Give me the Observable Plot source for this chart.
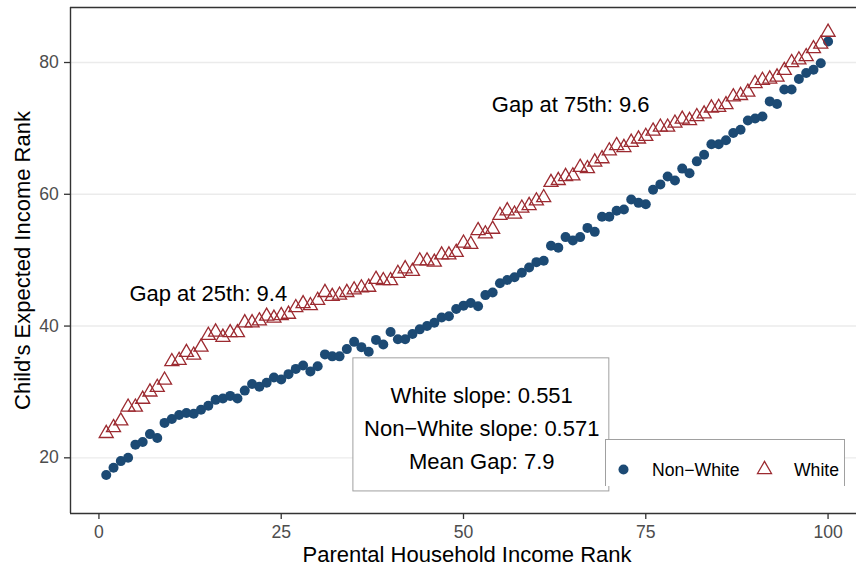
<!DOCTYPE html>
<html>
<head>
<meta charset="utf-8">
<script src="https://cdn.jsdelivr.net/npm/d3@7"></script>
<script src="https://cdn.jsdelivr.net/npm/@observablehq/plot@0.6"></script>
<style>
  html, body { margin: 0; padding: 0; background: white; overflow: hidden; }
  #wrap { position: relative; width: 856px; height: 567px; font-family: "Liberation Sans", Arial, Helvetica, sans-serif; }
  #legend { position: absolute; left: 605px; top: 439px; width: 240px; height: 47px;
    border: 1px solid #a0a0a0; border-bottom: none; background: white; box-sizing: border-box; }
  #legend svg { position: absolute; left: 0; top: 0; }
</style>
</head>
<body>
<div id="wrap"></div>
<script>
// Parental household income rank (1..100)
const ranks = d3.range(1, 101);

// Child's expected income rank, Non-White
const nonWhite = [
  17.4, 18.5, 19.5, 20.0, 22.0, 22.4, 23.6, 23.0, 25.3, 25.9,
  26.5, 26.8, 26.7, 27.3, 27.9, 28.8, 29.0, 29.4, 29.0, 30.2,
  31.2, 30.8, 31.4, 32.2, 31.9, 32.7, 33.5, 34.0, 33.1, 33.9,
  35.7, 35.4, 35.4, 36.5, 37.6, 36.8, 36.1, 37.9, 37.2, 39.1,
  38.0, 38.0, 38.8, 39.5, 40.0, 40.5, 41.3, 41.5, 42.6, 43.1,
  43.5, 43.0, 44.7, 45.1, 46.5, 47.0, 47.4, 48.1, 48.9, 49.7,
  49.9, 52.2, 51.9, 53.5, 53.0, 53.5, 54.9, 54.3, 56.6, 56.6,
  57.5, 57.7, 59.2, 58.7, 58.5, 60.7, 61.5, 62.7, 62.1, 63.9,
  63.2, 65.0, 66.0, 67.6, 67.6, 68.2, 69.3, 69.8, 71.2, 71.5,
  71.8, 74.1, 73.7, 75.9, 75.9, 77.5, 78.4, 78.9, 79.9, 83.2
];

// Child's expected income rank, White
const white = [
  23.7, 24.6, 25.6, 27.7, 27.7, 28.9, 30.0, 30.7, 31.8, 34.6,
  34.8, 36.0, 35.6, 36.8, 38.6, 39.1, 38.3, 39.0, 39.0, 40.5,
  40.5, 40.8, 41.5, 41.2, 41.6, 41.8, 42.8, 43.4, 43.1, 43.9,
  45.1, 44.5, 44.7, 45.1, 45.5, 45.8, 45.9, 47.1, 46.9, 46.9,
  48.0, 48.7, 48.3, 49.9, 49.9, 49.7, 50.8, 50.8, 51.2, 52.6,
  52.4, 54.5, 54.0, 54.7, 56.8, 57.5, 57.0, 57.9, 58.3, 59.0,
  59.5, 61.8, 62.1, 62.7, 62.8, 64.1, 63.9, 64.9, 65.4, 66.6,
  67.4, 67.1, 67.9, 68.4, 68.8, 69.6, 70.2, 70.2, 70.8, 71.4,
  71.2, 71.8, 72.2, 73.1, 73.2, 73.6, 74.8, 75.0, 75.5, 76.8,
  77.3, 77.5, 77.8, 78.8, 80.0, 80.4, 80.9, 82.1, 82.8, 84.6
];

const groups = ["Non\u2212White", "White"];
const xTicks = [0, 25, 50, 75, 100];
const yTicks = [20, 40, 60, 80];
const xDomain = [-3.9, 103.9];
const yDomain = [11.55, 88.35];

const gap25 = "Gap at 25th: 9.4";
const gap75 = "Gap at 75th: 9.6";
const statsLabel = ["White slope: 0.551", "Non\u2212White slope: 0.571", "Mean Gap: 7.9"];

const BLUE = "#1c4a74";
const RED = "#9c2a30";
const FONT = "'Liberation Sans', Arial, Helvetica, sans-serif";

const nwData = ranks.map((r, i) => ({rank: r, value: nonWhite[i]}));
const wData = ranks.map((r, i) => ({rank: r, value: white[i]}));

const plot = Plot.plot({
  width: 856,
  height: 567,
  marginLeft: 70,
  marginRight: 0,
  marginTop: 7,
  marginBottom: 54,
  style: {fontFamily: FONT, background: "white", overflow: "visible"},
  x: {domain: xDomain},
  y: {domain: yDomain},
  marks: [
    Plot.gridY(yTicks, {stroke: "#ebebeb", strokeOpacity: 1, strokeWidth: 1.4}),
    Plot.rect([statsLabel], {x1: 34.9, x2: 70.0, y1: 14.9, y2: 35.1, fill: "white", stroke: "#a0a0a0", strokeWidth: 1}),
    Plot.text([statsLabel.join("\n")], {x: 52.5, y: 24.9, fontSize: 22, lineHeight: 1.5, fill: "black", textAnchor: "middle", lineAnchor: "middle"}),
    Plot.dot(nwData, {x: "rank", y: "value", r: 5, fill: BLUE, symbol: "circle"}),
    Plot.dot(wData, {x: "rank", y: "value", r: 5.2, stroke: RED, strokeWidth: 1.3, fill: "none", symbol: "triangle"}),
    Plot.text([gap25], {x: 15.0, y: 44.8, fontSize: 22, fill: "black", lineAnchor: "middle"}),
    Plot.text([gap75], {x: 64.7, y: 73.6, fontSize: 22, fill: "black", lineAnchor: "middle"}),
    Plot.ruleX([xDomain[0]], {stroke: "#333", strokeWidth: 1.4}),
    Plot.ruleY([yDomain[0]], {stroke: "#333", strokeWidth: 1.4}),
    Plot.ruleY([yDomain[1]], {stroke: "#333", strokeWidth: 1.4}),
    Plot.axisX(xTicks, {tickSize: 6, tickPadding: 6, fontSize: 17.6, stroke: "#333", fill: "#4d4d4d", strokeWidth: 1.3, label: null}),
    Plot.axisY(yTicks, {tickSize: 6, tickPadding: 5.7, fontSize: 17.6, stroke: "#333", fill: "#4d4d4d", strokeWidth: 1.3, label: null}),
    Plot.text(["Parental Household Income Rank"], {frameAnchor: "bottom", dx: 3.5, dy: 41, fontSize: 22, fill: "black", textAnchor: "middle", lineAnchor: "middle"}),
    Plot.text(["Child's Expected Income Rank"], {frameAnchor: "left", dx: -47.7, rotate: -90, fontSize: 22, fill: "black", textAnchor: "middle", lineAnchor: "middle"})
  ]
});

const wrap = document.getElementById("wrap");
wrap.appendChild(plot);

// Legend (inside the panel, bottom right)
const legend = document.createElement("div");
legend.id = "legend";
const ns = "http://www.w3.org/2000/svg";
const lsvg = document.createElementNS(ns, "svg");
lsvg.setAttribute("width", 240);
lsvg.setAttribute("height", 47);
const circ = document.createElementNS(ns, "circle");
circ.setAttribute("cx", 17.5); circ.setAttribute("cy", 29.5); circ.setAttribute("r", 5);
circ.setAttribute("fill", BLUE);
lsvg.appendChild(circ);
const tri = document.createElementNS(ns, "path");
tri.setAttribute("d", d3.symbol(d3.symbolTriangle, Math.PI * 5.2 * 5.2)());
tri.setAttribute("transform", "translate(158.5,29.5)");
tri.setAttribute("fill", "none"); tri.setAttribute("stroke", RED); tri.setAttribute("stroke-width", 1.3);
lsvg.appendChild(tri);
[[46, groups[0]], [188, groups[1]]].forEach(([x, t]) => {
  const tx = document.createElementNS(ns, "text");
  tx.setAttribute("x", x); tx.setAttribute("y", 35.5);
  tx.setAttribute("font-size", 17.6);
  tx.setAttribute("font-family", FONT);
  tx.setAttribute("fill", "black");
  tx.textContent = t;
  lsvg.appendChild(tx);
});
legend.appendChild(lsvg);
wrap.appendChild(legend);
</script>
</body>
</html>
